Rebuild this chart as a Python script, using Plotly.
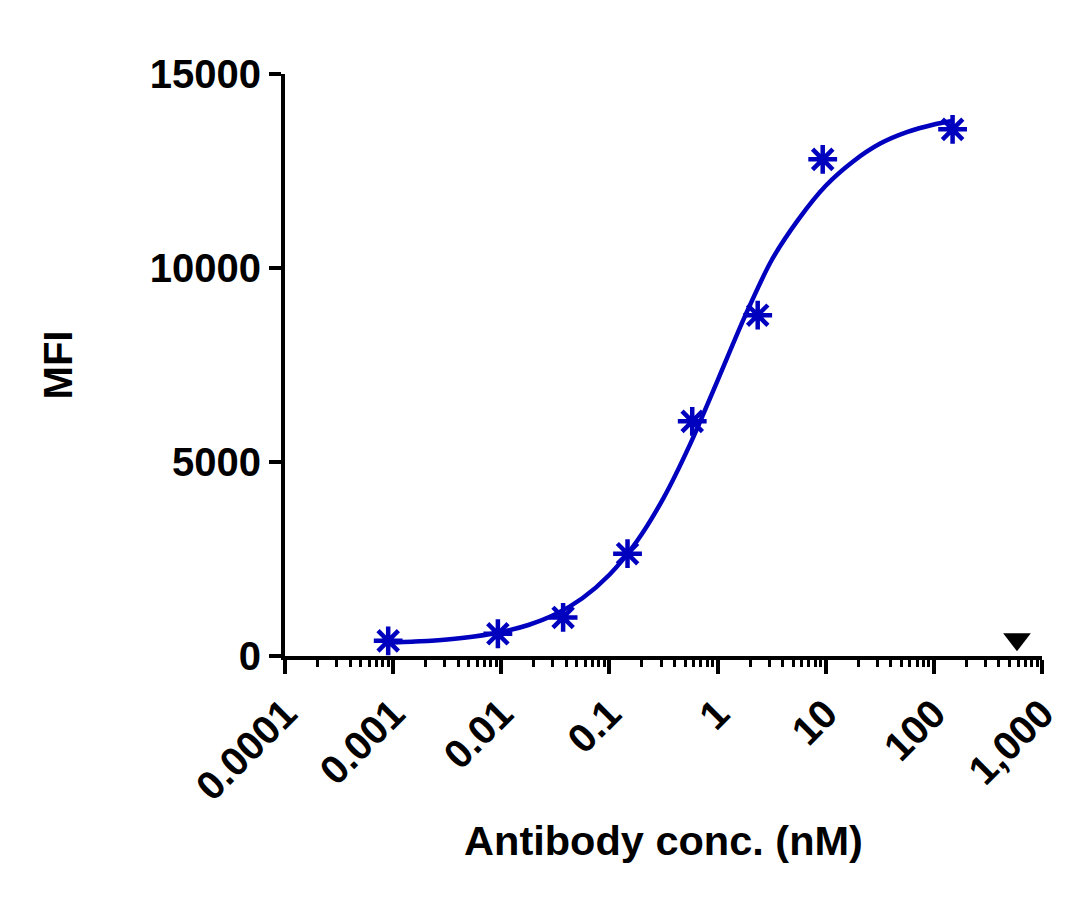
import plotly.graph_objects as go

# measured points (antibody conc. in nM, MFI)
conc = [0.0009, 0.0093, 0.0373, 0.147, 0.583, 2.35, 9.38, 149]
mfi = [390, 573, 993, 2636, 6048, 8783, 12800, 13573]

# fitted curve
fit_conc = [0.000891, 0.00178, 0.00316, 0.00562, 0.01, 0.0178, 0.0316, 0.0562,
            0.1, 0.178, 0.316, 0.562, 1, 1.78, 3.16, 5.62, 10, 17.8, 31.6,
            56.2, 100, 148]
fit_mfi = [347, 381, 428, 503, 619, 799, 1074, 1489,
           2094, 2944, 4069, 5480, 7100, 8740, 10200, 11260, 12120, 12740, 13200,
           13500, 13700, 13790]

# isotype control point
ctrl_conc = [587]
ctrl_mfi = [430]

x_tickvals = [0.0001, 0.001, 0.01, 0.1, 1, 10, 100, 1000]
x_ticktext = ["0.0001", "0.001", "0.01", "0.1", "1", "10", "100", "1,000"]
y_tickvals = [0, 5000, 10000, 15000]
y_ticktext = ["0", "5000", "10000", "15000"]

blue = "#0000BF"
font_family = "Liberation Sans, Arial"

fig = go.Figure()
fig.add_trace(
    go.Scatter(
        x=fit_conc,
        y=fit_mfi,
        mode="lines",
        line=dict(color=blue, width=4.5, shape="spline", smoothing=0.8),
        showlegend=False,
        cliponaxis=False,
    )
)
fig.add_trace(
    go.Scatter(
        x=conc,
        y=mfi,
        mode="markers",
        marker=dict(symbol="asterisk-open", size=24, color=blue,
                    line=dict(color=blue, width=4.5)),
        showlegend=False,
        cliponaxis=False,
    )
)
fig.add_trace(
    go.Scatter(
        x=ctrl_conc,
        y=ctrl_mfi,
        mode="markers",
        marker=dict(symbol="triangle-down", size=24, color="black"),
        showlegend=False,
        cliponaxis=False,
    )
)

fig.update_layout(
    width=1058,
    height=894,
    margin=dict(l=277, r=24, t=66, b=246),
    paper_bgcolor="white",
    plot_bgcolor="white",
    font=dict(family=font_family, size=40, color="black", weight="bold"),
)
fig.update_xaxes(
    type="log",
    range=[-4, 3],
    tickvals=x_tickvals,
    ticktext=x_ticktext,
    tickangle=-45,
    tickfont=dict(size=40),
    ticks="outside",
    ticklen=14,
    tickwidth=4,
    tickcolor="black",
    showline=True,
    linewidth=4,
    linecolor="black",
    showgrid=False,
    zeroline=False,
    minor=dict(ticks="outside", ticklen=7, tickwidth=3, tickcolor="black",
               dtick="D1", showgrid=False),
    title=dict(text="Antibody conc. (nM)", standoff=20,
               font=dict(family=font_family, size=41.5, weight="bold")),
    automargin=False,
)
fig.update_yaxes(
    range=[0, 15000],
    tickvals=y_tickvals,
    ticktext=y_ticktext,
    tickfont=dict(size=40),
    ticks="outside",
    ticklen=12,
    tickwidth=4,
    tickcolor="black",
    showline=True,
    linewidth=4,
    linecolor="black",
    showgrid=False,
    zeroline=False,
    title=dict(text="MFI", standoff=66,
               font=dict(family=font_family, size=40, weight="bold")),
    automargin=False,
)

fig.write_html("out.html")
